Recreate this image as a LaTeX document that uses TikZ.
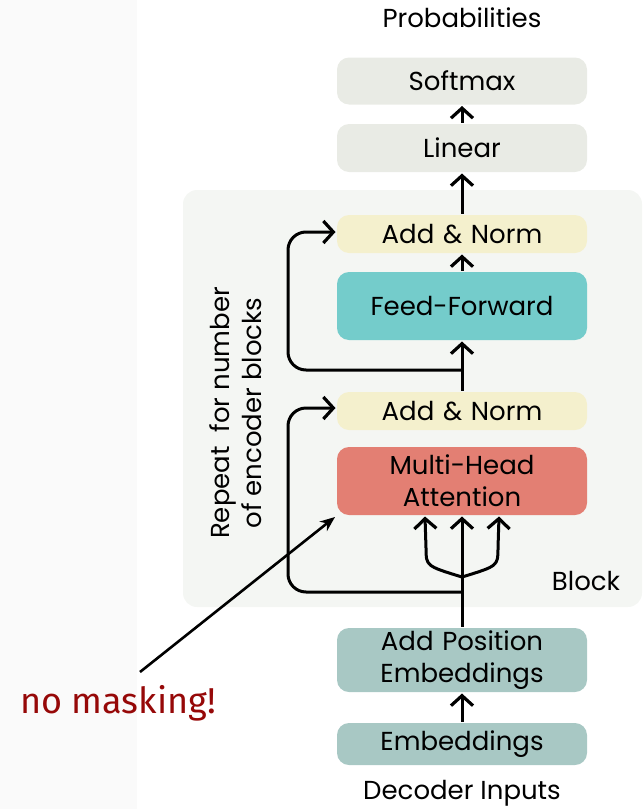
\documentclass[tikz,border=0pt]{standalone}
\usepackage{fontspec}
\setmainfont{Poppins}
\newfontfamily\notefont{Fira Sans}
\usetikzlibrary{arrows.meta}

\definecolor{headgray}{HTML}{E9EBE5}
\definecolor{normyel}{HTML}{F4F0CD}
\definecolor{ffteal}{HTML}{74CCCB}
\definecolor{attred}{HTML}{E37F73}
\definecolor{embgray}{HTML}{A8C8C4}
\definecolor{blockbg}{HTML}{F4F6F3}
\definecolor{maskred}{HTML}{960808}
\definecolor{sidebg}{HTML}{FAFAFA}

\begin{document}
\begin{tikzpicture}[x=1pt,y=-1pt,line width=3pt]
  \tikzstyle{layer}=[rounded corners=12pt,minimum width=250pt,text width=246pt,align=center,inner sep=0pt,font=\fontsize{26}{32}\selectfont]
  \tikzstyle{up}=[-{Straight Barb[length=10pt,width=22pt,line width=3.2pt]}]
  \useasboundingbox (0,0) rectangle (644,809);
  \fill[sidebg] (0,0) rectangle (137,809);
  \fill[blockbg,rounded corners=14pt] (183,190) rectangle (642,607);

  \node[layer,fill=headgray,minimum height=47pt] (softmax) at (462,81) {Softmax};
  \node[layer,fill=headgray,minimum height=48pt] (linear) at (462,148) {Linear};
  \node[layer,fill=normyel,minimum height=38pt] (norm_2) at (462,234) {Add \& Norm};
  \node[layer,fill=ffteal,minimum height=68pt] (ff) at (462,306) {Feed-Forward};
  \node[layer,fill=normyel,minimum height=38pt] (norm_1) at (462,411) {Add \& Norm};
  \node[layer,fill=attred,minimum height=68pt] (mha) at (462,481) {Multi-Head\\Attention};
  \node[layer,fill=embgray,minimum height=64pt] (pos) at (462,660) {Add Position\\Embeddings};
  \node[layer,fill=embgray,minimum height=42pt] (emb) at (462,744) {Embeddings};

  \node[font=\fontsize{26}{32}\selectfont] (probs) at (462,18) {Probabilities};
  \node[font=\fontsize{26}{32}\selectfont] (dec_in) at (462,793) {Decoder Inputs};
  \node[font=\fontsize{26}{32}\selectfont] (block_lbl) at (586,581) {Block};
  \node[font=\fontsize{26}{32}\selectfont,rotate=90,align=center] (repeat) at (236,413)
        {Repeat\ \ for number\\of encoder blocks};

  \coordinate (fork) at (462,577);
  \coordinate (skip_1) at (462,592);
  \coordinate (skip_2) at (462,370);

  \draw[up] (pos) -- (mha);
  \draw[up] (fork) .. controls (426,566) .. (426,548) -- ([xshift=-37pt]mha.south);
  \draw[up] (fork) .. controls (498,566) .. (498,548) -- ([xshift=37pt]mha.south);
  \draw[up,rounded corners=18pt] (skip_1) -| (288,408) -- ([yshift=3pt]norm_1.west);
  \draw[up] (norm_1) -- (ff);
  \draw[up,rounded corners=18pt] (skip_2) -| (288,232) -- ([yshift=2pt]norm_2.west);
  \draw[up] (ff) -- (norm_2);
  \draw[up] (norm_2) -- (linear);
  \draw[up] (linear) -- (softmax);
  \draw[up] (emb) -- (pos);

  \node[text=maskred,font=\notefont\fontsize{36}{40}\selectfont] (note) at (118,703) {no masking!};
  \coordinate (note_tail) at (140,672);
  \coordinate (note_tip) at (335,517);
  \draw[-{Stealth[length=15pt,width=12pt]},line width=2.6pt] (note_tail) -- (note_tip);
\end{tikzpicture}
\end{document}
